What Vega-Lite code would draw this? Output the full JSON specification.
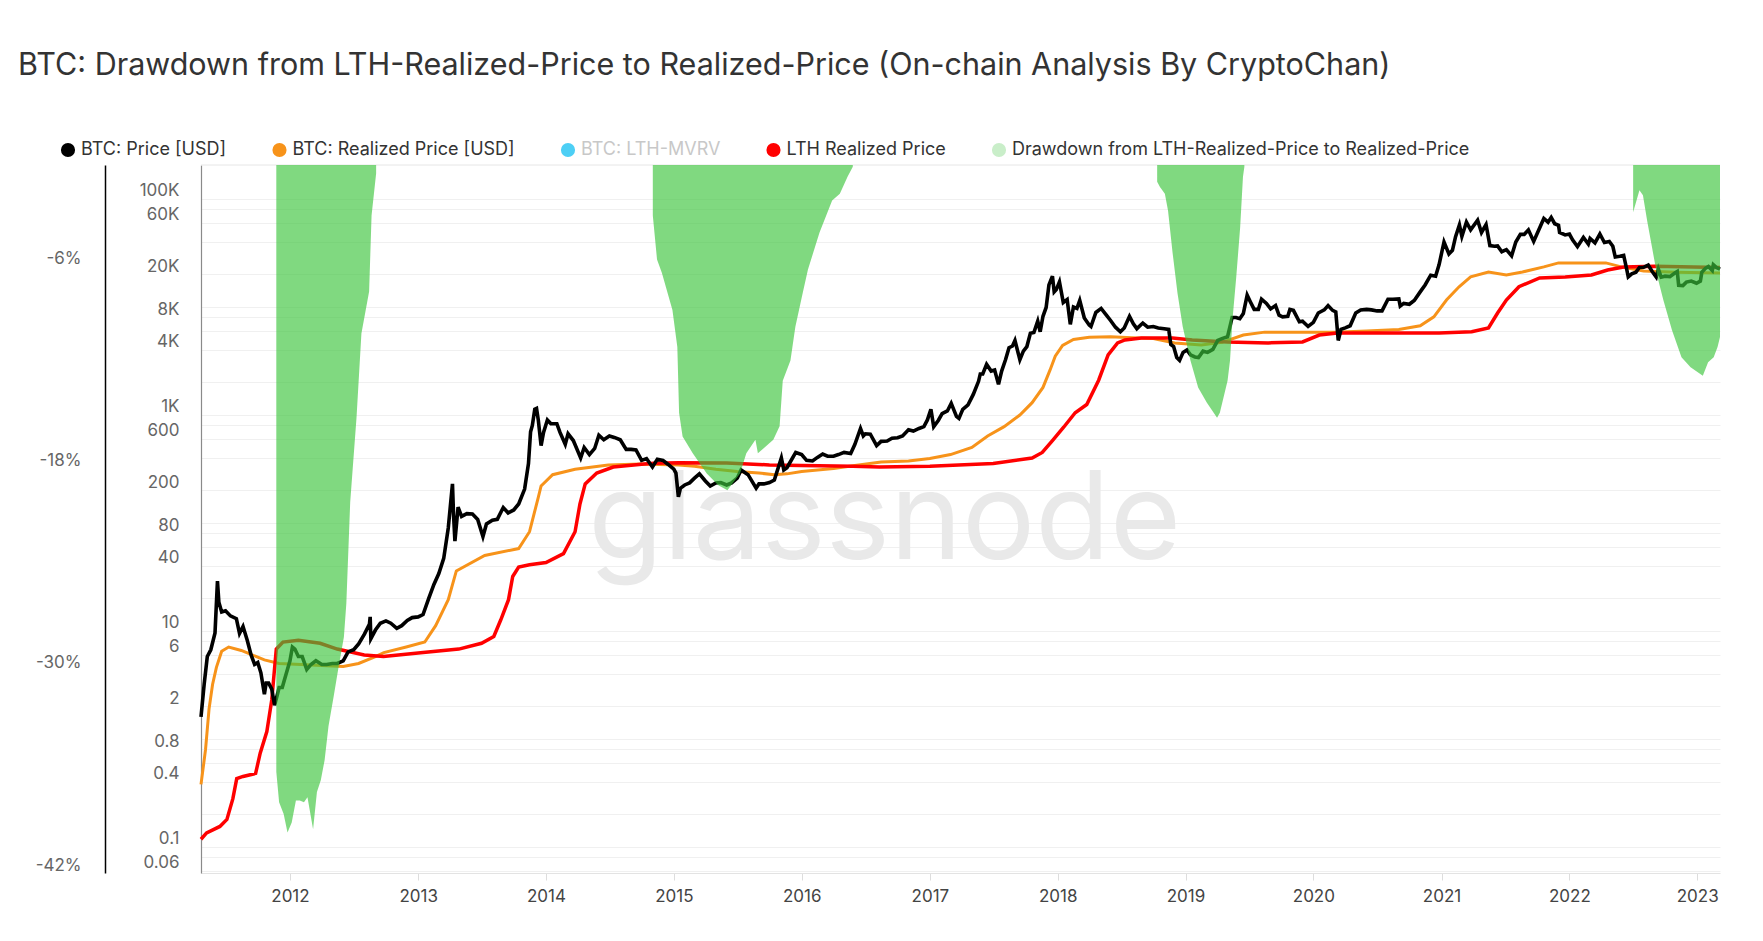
{
"$schema": "https://vega.github.io/schema/vega-lite/v6.json",
"width": 1519,
"height": 708,
"autosize": {"type": "none"},
"padding": {"left": 201, "top": 165, "right": 43, "bottom": 68},
"background": "#ffffff",
"config": {"view": {"stroke": null}, "font": "Inter"},
"title": {"text": "BTC: Drawdown from LTH-Realized-Price to Realized-Price (On-chain Analysis By CryptoChan)", "anchor": "start", "frame": "group", "fontSize": 30.5, "fontWeight": 400, "font": "Inter", "color": "#333333", "dx": -183, "offset": 60},
"datasets": {
"price": [
{"d":"2011-04-22","v":1.6},{"d":"2011-05-01","v":3.2},{"d":"2011-05-10","v":5.8},{"d":"2011-05-20","v":6.7},{"d":"2011-06-01","v":9.6},{"d":"2011-06-08","v":29},{"d":"2011-06-12","v":18.5},{"d":"2011-06-20","v":15},{"d":"2011-07-01","v":15.4},{"d":"2011-07-15","v":13.8},{"d":"2011-08-01","v":13},{"d":"2011-08-10","v":9.5},{"d":"2011-08-20","v":11},{"d":"2011-09-01","v":8.2},{"d":"2011-09-12","v":6},{"d":"2011-09-22","v":4.9},{"d":"2011-10-01","v":5.1},{"d":"2011-10-10","v":4.1},{"d":"2011-10-20","v":2.6},{"d":"2011-10-25","v":3.3},{"d":"2011-11-01","v":3.3},{"d":"2011-11-10","v":2.9},{"d":"2011-11-18","v":2.05},{"d":"2011-11-25","v":2.5},{"d":"2011-12-01","v":3},{"d":"2011-12-10","v":3},{"d":"2011-12-20","v":3.9},{"d":"2012-01-01","v":5.3},{"d":"2012-01-08","v":7.1},{"d":"2012-01-15","v":6.8},{"d":"2012-01-25","v":5.8},{"d":"2012-02-05","v":5.8},{"d":"2012-02-18","v":4.4},{"d":"2012-03-01","v":4.9},{"d":"2012-03-15","v":5.3},{"d":"2012-04-01","v":4.9},{"d":"2012-04-15","v":4.9},{"d":"2012-05-01","v":5},{"d":"2012-05-15","v":5},{"d":"2012-06-01","v":5.3},{"d":"2012-06-15","v":6.4},{"d":"2012-07-01","v":6.7},{"d":"2012-07-15","v":7.6},{"d":"2012-08-01","v":9.4},{"d":"2012-08-15","v":11.6},{"d":"2012-08-17","v":13.5},{"d":"2012-08-19","v":8.5},{"d":"2012-09-01","v":10.2},{"d":"2012-09-15","v":11.8},{"d":"2012-10-01","v":12.4},{"d":"2012-10-15","v":11.8},{"d":"2012-11-01","v":10.6},{"d":"2012-11-15","v":11.2},{"d":"2012-12-01","v":12.5},{"d":"2012-12-15","v":13.3},{"d":"2013-01-01","v":13.5},{"d":"2013-01-15","v":14.2},{"d":"2013-02-01","v":20.4},{"d":"2013-02-15","v":27},{"d":"2013-03-01","v":34},{"d":"2013-03-15","v":47},{"d":"2013-03-28","v":90},{"d":"2013-04-09","v":230},{"d":"2013-04-12","v":120},{"d":"2013-04-16","v":68},{"d":"2013-04-25","v":140},{"d":"2013-05-05","v":115},{"d":"2013-05-20","v":122},{"d":"2013-06-05","v":121},{"d":"2013-06-20","v":108},{"d":"2013-07-05","v":75},{"d":"2013-07-15","v":98},{"d":"2013-08-01","v":106},{"d":"2013-08-15","v":108},{"d":"2013-09-01","v":139},{"d":"2013-09-15","v":124},{"d":"2013-10-01","v":132},{"d":"2013-10-15","v":150},{"d":"2013-11-01","v":206},{"d":"2013-11-12","v":355},{"d":"2013-11-18","v":700},{"d":"2013-11-23","v":800},{"d":"2013-11-30","v":1130},{"d":"2013-12-05","v":1150},{"d":"2013-12-10","v":900},{"d":"2013-12-18","v":520},{"d":"2013-12-25","v":690},{"d":"2014-01-05","v":900},{"d":"2014-01-15","v":830},{"d":"2014-02-01","v":830},{"d":"2014-02-10","v":690},{"d":"2014-02-25","v":535},{"d":"2014-03-05","v":670},{"d":"2014-03-20","v":580},{"d":"2014-04-10","v":400},{"d":"2014-04-20","v":500},{"d":"2014-05-05","v":430},{"d":"2014-05-20","v":490},{"d":"2014-06-01","v":650},{"d":"2014-06-15","v":590},{"d":"2014-07-01","v":640},{"d":"2014-07-15","v":620},{"d":"2014-08-01","v":590},{"d":"2014-08-18","v":480},{"d":"2014-09-01","v":480},{"d":"2014-09-15","v":475},{"d":"2014-10-01","v":380},{"d":"2014-10-15","v":395},{"d":"2014-11-01","v":330},{"d":"2014-11-15","v":390},{"d":"2014-12-01","v":380},{"d":"2014-12-15","v":350},{"d":"2015-01-01","v":315},{"d":"2015-01-07","v":290},{"d":"2015-01-14","v":175},{"d":"2015-01-20","v":210},{"d":"2015-02-01","v":225},{"d":"2015-02-15","v":235},{"d":"2015-03-01","v":260},{"d":"2015-03-15","v":285},{"d":"2015-04-01","v":245},{"d":"2015-04-15","v":220},{"d":"2015-05-01","v":235},{"d":"2015-05-15","v":237},{"d":"2015-06-01","v":225},{"d":"2015-06-15","v":235},{"d":"2015-07-01","v":260},{"d":"2015-07-12","v":310},{"d":"2015-08-01","v":280},{"d":"2015-08-24","v":210},{"d":"2015-09-01","v":230},{"d":"2015-09-15","v":230},{"d":"2015-10-01","v":237},{"d":"2015-10-15","v":250},{"d":"2015-11-04","v":400},{"d":"2015-11-11","v":310},{"d":"2015-11-20","v":325},{"d":"2015-12-01","v":375},{"d":"2015-12-15","v":450},{"d":"2016-01-01","v":430},{"d":"2016-01-15","v":380},{"d":"2016-02-01","v":375},{"d":"2016-02-15","v":405},{"d":"2016-03-01","v":435},{"d":"2016-03-15","v":415},{"d":"2016-04-01","v":415},{"d":"2016-04-15","v":430},{"d":"2016-05-01","v":450},{"d":"2016-05-20","v":440},{"d":"2016-06-01","v":535},{"d":"2016-06-17","v":750},{"d":"2016-06-25","v":640},{"d":"2016-07-01","v":670},{"d":"2016-07-15","v":665},{"d":"2016-08-02","v":520},{"d":"2016-08-15","v":570},{"d":"2016-09-01","v":575},{"d":"2016-09-15","v":610},{"d":"2016-10-01","v":615},{"d":"2016-10-15","v":640},{"d":"2016-11-01","v":730},{"d":"2016-11-15","v":710},{"d":"2016-12-01","v":750},{"d":"2016-12-15","v":780},{"d":"2016-12-25","v":900},{"d":"2017-01-04","v":1130},{"d":"2017-01-12","v":780},{"d":"2017-01-25","v":890},{"d":"2017-02-05","v":1030},{"d":"2017-02-20","v":1090},{"d":"2017-03-03","v":1280},{"d":"2017-03-18","v":970},{"d":"2017-03-25","v":930},{"d":"2017-04-05","v":1130},{"d":"2017-04-20","v":1240},{"d":"2017-05-05","v":1550},{"d":"2017-05-20","v":2050},{"d":"2017-05-25","v":2400},{"d":"2017-06-01","v":2400},{"d":"2017-06-12","v":2950},{"d":"2017-06-25","v":2550},{"d":"2017-07-05","v":2610},{"d":"2017-07-16","v":1920},{"d":"2017-07-25","v":2550},{"d":"2017-08-05","v":3250},{"d":"2017-08-15","v":4200},{"d":"2017-08-25","v":4350},{"d":"2017-09-01","v":4900},{"d":"2017-09-15","v":3250},{"d":"2017-09-25","v":3900},{"d":"2017-10-05","v":4300},{"d":"2017-10-15","v":5700},{"d":"2017-10-25","v":5800},{"d":"2017-11-05","v":7400},{"d":"2017-11-12","v":5900},{"d":"2017-11-20","v":8200},{"d":"2017-11-29","v":9900},{"d":"2017-12-07","v":16000},{"d":"2017-12-17","v":19300},{"d":"2017-12-22","v":13800},{"d":"2017-12-28","v":14500},{"d":"2018-01-06","v":17100},{"d":"2018-01-17","v":11000},{"d":"2018-01-28","v":11700},{"d":"2018-02-06","v":6900},{"d":"2018-02-15","v":10000},{"d":"2018-02-25","v":9700},{"d":"2018-03-05","v":11500},{"d":"2018-03-18","v":7900},{"d":"2018-04-01","v":6800},{"d":"2018-04-06","v":6600},{"d":"2018-04-20","v":8900},{"d":"2018-05-05","v":9700},{"d":"2018-05-20","v":8400},{"d":"2018-06-01","v":7500},{"d":"2018-06-15","v":6500},{"d":"2018-06-29","v":5900},{"d":"2018-07-10","v":6400},{"d":"2018-07-25","v":8200},{"d":"2018-08-05","v":7000},{"d":"2018-08-15","v":6300},{"d":"2018-09-01","v":7100},{"d":"2018-09-15","v":6500},{"d":"2018-10-01","v":6600},{"d":"2018-10-15","v":6400},{"d":"2018-11-01","v":6300},{"d":"2018-11-14","v":6200},{"d":"2018-11-20","v":4500},{"d":"2018-11-28","v":4300},{"d":"2018-12-07","v":3400},{"d":"2018-12-15","v":3200},{"d":"2018-12-25","v":3800},{"d":"2019-01-05","v":4000},{"d":"2019-01-15","v":3600},{"d":"2019-01-28","v":3450},{"d":"2019-02-07","v":3400},{"d":"2019-02-20","v":3900},{"d":"2019-03-05","v":3800},{"d":"2019-03-20","v":4050},{"d":"2019-04-03","v":4900},{"d":"2019-04-15","v":5100},{"d":"2019-05-01","v":5300},{"d":"2019-05-14","v":8000},{"d":"2019-05-25","v":8000},{"d":"2019-06-05","v":7800},{"d":"2019-06-15","v":8700},{"d":"2019-06-26","v":12900},{"d":"2019-07-05","v":11200},{"d":"2019-07-16","v":9500},{"d":"2019-07-28","v":9500},{"d":"2019-08-06","v":11800},{"d":"2019-08-20","v":10800},{"d":"2019-09-01","v":9600},{"d":"2019-09-15","v":10300},{"d":"2019-09-25","v":8400},{"d":"2019-10-05","v":8100},{"d":"2019-10-20","v":8200},{"d":"2019-10-26","v":9500},{"d":"2019-11-05","v":9300},{"d":"2019-11-22","v":7300},{"d":"2019-12-01","v":7400},{"d":"2019-12-17","v":6600},{"d":"2020-01-01","v":7200},{"d":"2020-01-15","v":8800},{"d":"2020-02-01","v":9400},{"d":"2020-02-12","v":10300},{"d":"2020-02-25","v":9300},{"d":"2020-03-05","v":9000},{"d":"2020-03-12","v":4900},{"d":"2020-03-20","v":6200},{"d":"2020-04-01","v":6400},{"d":"2020-04-15","v":6700},{"d":"2020-05-01","v":8800},{"d":"2020-05-15","v":9400},{"d":"2020-06-01","v":9500},{"d":"2020-06-15","v":9400},{"d":"2020-07-01","v":9200},{"d":"2020-07-15","v":9200},{"d":"2020-08-01","v":11800},{"d":"2020-08-15","v":11800},{"d":"2020-09-01","v":11900},{"d":"2020-09-05","v":10200},{"d":"2020-09-15","v":10800},{"d":"2020-10-01","v":10600},{"d":"2020-10-15","v":11500},{"d":"2020-11-01","v":13800},{"d":"2020-11-15","v":16000},{"d":"2020-12-01","v":19700},{"d":"2020-12-15","v":19300},{"d":"2020-12-25","v":24700},{"d":"2021-01-08","v":40000},{"d":"2021-01-22","v":31000},{"d":"2021-02-01","v":33500},{"d":"2021-02-10","v":44800},{"d":"2021-02-21","v":57500},{"d":"2021-02-28","v":45000},{"d":"2021-03-13","v":61200},{"d":"2021-03-25","v":51700},{"d":"2021-04-14","v":63500},{"d":"2021-04-25","v":49000},{"d":"2021-05-08","v":58000},{"d":"2021-05-19","v":37000},{"d":"2021-06-01","v":36500},{"d":"2021-06-10","v":36800},{"d":"2021-06-22","v":32500},{"d":"2021-07-05","v":34000},{"d":"2021-07-20","v":29800},{"d":"2021-08-01","v":40000},{"d":"2021-08-14","v":47000},{"d":"2021-08-25","v":47000},{"d":"2021-09-06","v":51800},{"d":"2021-09-21","v":40500},{"d":"2021-10-01","v":48000},{"d":"2021-10-20","v":66000},{"d":"2021-11-01","v":61000},{"d":"2021-11-10","v":67500},{"d":"2021-11-20","v":59000},{"d":"2021-12-01","v":57000},{"d":"2021-12-04","v":49000},{"d":"2021-12-20","v":46500},{"d":"2022-01-01","v":47300},{"d":"2022-01-10","v":41800},{"d":"2022-01-24","v":36200},{"d":"2022-02-10","v":44000},{"d":"2022-02-24","v":38300},{"d":"2022-03-01","v":43200},{"d":"2022-03-15","v":39300},{"d":"2022-03-29","v":47400},{"d":"2022-04-11","v":39500},{"d":"2022-04-25","v":40400},{"d":"2022-05-05","v":36500},{"d":"2022-05-12","v":29000},{"d":"2022-05-25","v":29500},{"d":"2022-06-05","v":30000},{"d":"2022-06-14","v":22100},{"d":"2022-06-18","v":19000},{"d":"2022-06-28","v":20300},{"d":"2022-07-10","v":21000},{"d":"2022-07-20","v":23200},{"d":"2022-08-01","v":23300},{"d":"2022-08-14","v":24400},{"d":"2022-08-25","v":21400},{"d":"2022-09-06","v":18900},{"d":"2022-09-12","v":22400},{"d":"2022-09-20","v":18900},{"d":"2022-10-01","v":19300},{"d":"2022-10-15","v":19100},{"d":"2022-10-29","v":20600},{"d":"2022-11-05","v":21300},{"d":"2022-11-09","v":15900},{"d":"2022-11-21","v":15800},{"d":"2022-12-01","v":17000},{"d":"2022-12-15","v":17400},{"d":"2022-12-30","v":16600},{"d":"2023-01-10","v":17400},{"d":"2023-01-14","v":20900},{"d":"2023-01-25","v":22900},{"d":"2023-02-02","v":23700},{"d":"2023-02-13","v":21800},{"d":"2023-02-16","v":24600},{"d":"2023-02-25","v":23200},{"d":"2023-03-07","v":22400}
],
"rp": [
{"d":"2011-04-22","v":0.38},{"d":"2011-05-05","v":0.8},{"d":"2011-05-15","v":1.9},{"d":"2011-05-25","v":3.2},{"d":"2011-06-05","v":4.6},{"d":"2011-06-20","v":6.5},{"d":"2011-07-10","v":7.1},{"d":"2011-08-15","v":6.6},{"d":"2011-09-15","v":6.0},{"d":"2011-10-20","v":5.4},{"d":"2011-12-01","v":5.0},{"d":"2012-02-01","v":4.9},{"d":"2012-04-01","v":4.8},{"d":"2012-06-01","v":4.7},{"d":"2012-07-15","v":5.0},{"d":"2012-09-01","v":5.8},{"d":"2012-09-25","v":6.3},{"d":"2012-11-28","v":7.1},{"d":"2013-01-20","v":7.9},{"d":"2013-02-20","v":11.2},{"d":"2013-03-28","v":19.5},{"d":"2013-04-20","v":36},{"d":"2013-07-10","v":50},{"d":"2013-10-15","v":58},{"d":"2013-11-15","v":83},{"d":"2013-12-10","v":173},{"d":"2013-12-18","v":220},{"d":"2014-01-20","v":280},{"d":"2014-03-25","v":315},{"d":"2014-06-28","v":345},{"d":"2014-09-28","v":352},{"d":"2015-01-15","v":345},{"d":"2015-03-01","v":335},{"d":"2015-05-01","v":315},{"d":"2015-07-01","v":300},{"d":"2015-09-01","v":290},{"d":"2015-10-15","v":280},{"d":"2015-11-20","v":285},{"d":"2016-01-01","v":300},{"d":"2016-04-01","v":320},{"d":"2016-06-01","v":340},{"d":"2016-08-15","v":367},{"d":"2016-11-01","v":375},{"d":"2017-01-01","v":395},{"d":"2017-03-01","v":430},{"d":"2017-05-01","v":500},{"d":"2017-06-15","v":640},{"d":"2017-08-01","v":780},{"d":"2017-09-15","v":1000},{"d":"2017-10-20","v":1300},{"d":"2017-11-20","v":1800},{"d":"2017-12-10","v":2600},{"d":"2017-12-25","v":3500},{"d":"2018-01-15","v":4400},{"d":"2018-02-15","v":5000},{"d":"2018-04-01","v":5250},{"d":"2018-06-01","v":5300},{"d":"2018-08-01","v":5200},{"d":"2018-10-01","v":5100},{"d":"2018-12-01","v":4650},{"d":"2019-02-15","v":4450},{"d":"2019-04-15","v":4700},{"d":"2019-06-15","v":5500},{"d":"2019-08-15","v":5850},{"d":"2019-11-01","v":5850},{"d":"2020-03-01","v":5850},{"d":"2020-06-01","v":6000},{"d":"2020-09-01","v":6200},{"d":"2020-11-01","v":6700},{"d":"2020-12-10","v":8100},{"d":"2021-01-15","v":11600},{"d":"2021-02-20","v":15400},{"d":"2021-03-25","v":19000},{"d":"2021-05-15","v":21100},{"d":"2021-07-05","v":19800},{"d":"2021-08-20","v":21100},{"d":"2021-10-20","v":23500},{"d":"2021-12-01","v":25600},{"d":"2022-04-15","v":25600},{"d":"2022-06-01","v":23400},{"d":"2022-08-01","v":21500},{"d":"2022-11-01","v":21000},{"d":"2023-03-07","v":20600}
],
"lth": [
{"d":"2011-04-22","v":0.118},{"d":"2011-05-08","v":0.135},{"d":"2011-06-15","v":0.155},{"d":"2011-07-05","v":0.18},{"d":"2011-07-22","v":0.28},{"d":"2011-08-02","v":0.43},{"d":"2011-08-20","v":0.45},{"d":"2011-09-25","v":0.48},{"d":"2011-10-08","v":0.74},{"d":"2011-10-27","v":1.17},{"d":"2011-11-10","v":2.3},{"d":"2011-11-23","v":6.8},{"d":"2011-12-12","v":7.9},{"d":"2012-01-25","v":8.2},{"d":"2012-03-27","v":7.7},{"d":"2012-05-15","v":6.8},{"d":"2012-07-31","v":6.0},{"d":"2012-09-24","v":5.8},{"d":"2013-01-08","v":6.3},{"d":"2013-04-27","v":6.8},{"d":"2013-07-01","v":7.7},{"d":"2013-08-05","v":8.9},{"d":"2013-08-25","v":12.7},{"d":"2013-09-16","v":19.5},{"d":"2013-09-28","v":32},{"d":"2013-10-15","v":39},{"d":"2013-11-15","v":41},{"d":"2014-01-01","v":43},{"d":"2014-02-20","v":52},{"d":"2014-03-25","v":83},{"d":"2014-04-08","v":150},{"d":"2014-04-23","v":230},{"d":"2014-05-26","v":290},{"d":"2014-07-12","v":330},{"d":"2014-10-01","v":350},{"d":"2014-11-05","v":358},{"d":"2015-01-15","v":362},{"d":"2015-06-01","v":360},{"d":"2015-10-01","v":345},{"d":"2016-01-01","v":340},{"d":"2016-05-26","v":335},{"d":"2016-08-10","v":330},{"d":"2017-01-01","v":335},{"d":"2017-07-01","v":355},{"d":"2017-10-20","v":400},{"d":"2017-11-18","v":450},{"d":"2017-12-17","v":580},{"d":"2018-01-18","v":770},{"d":"2018-02-20","v":1050},{"d":"2018-03-25","v":1250},{"d":"2018-04-28","v":2100},{"d":"2018-05-25","v":3600},{"d":"2018-06-21","v":4650},{"d":"2018-07-12","v":4950},{"d":"2018-08-28","v":5150},{"d":"2018-11-25","v":5150},{"d":"2019-01-20","v":4950},{"d":"2019-05-01","v":4750},{"d":"2019-08-25","v":4650},{"d":"2019-12-01","v":4750},{"d":"2020-01-18","v":5500},{"d":"2020-03-10","v":5750},{"d":"2020-08-25","v":5750},{"d":"2020-12-25","v":5750},{"d":"2021-03-28","v":5900},{"d":"2021-05-15","v":6400},{"d":"2021-06-10","v":8800},{"d":"2021-07-05","v":11600},{"d":"2021-08-10","v":15400},{"d":"2021-10-08","v":18600},{"d":"2021-12-20","v":19000},{"d":"2022-03-05","v":19800},{"d":"2022-04-20","v":22000},{"d":"2022-06-05","v":23400},{"d":"2022-09-01","v":23800},{"d":"2023-03-07","v":23200}
],
"dd": [
{"d":"2011-11-23","v":-36,"p":"a"},{"d":"2011-12-01","v":-37.8,"p":"a"},{"d":"2011-12-14","v":-38.5,"p":"a"},{"d":"2011-12-25","v":-39.6,"p":"a"},{"d":"2012-01-06","v":-39,"p":"a"},{"d":"2012-01-18","v":-37.7,"p":"a"},{"d":"2012-01-29","v":-37.7,"p":"a"},{"d":"2012-02-10","v":-37.8,"p":"a"},{"d":"2012-02-20","v":-37.5,"p":"a"},{"d":"2012-03-07","v":-39.4,"p":"a"},{"d":"2012-03-18","v":-37.2,"p":"a"},{"d":"2012-03-29","v":-36.5,"p":"a"},{"d":"2012-04-09","v":-35.3,"p":"a"},{"d":"2012-04-20","v":-33.3,"p":"a"},{"d":"2012-05-05","v":-31.5,"p":"a"},{"d":"2012-05-17","v":-30,"p":"a"},{"d":"2012-06-03","v":-28,"p":"a"},{"d":"2012-06-10","v":-26,"p":"a"},{"d":"2012-06-21","v":-20,"p":"a"},{"d":"2012-07-09","v":-15,"p":"a"},{"d":"2012-07-23","v":-10,"p":"a"},{"d":"2012-08-14","v":-7.5,"p":"a"},{"d":"2012-08-21","v":-3,"p":"a"},{"d":"2012-09-03","v":-0.5,"p":"a"},
{"d":"2014-11-02","v":-3,"p":"b"},{"d":"2014-11-14","v":-5.6,"p":"b"},{"d":"2014-11-28","v":-6.4,"p":"b"},{"d":"2014-12-28","v":-8.6,"p":"b"},{"d":"2015-01-11","v":-10.8,"p":"b"},{"d":"2015-01-16","v":-14.7,"p":"b"},{"d":"2015-01-26","v":-16.1,"p":"b"},{"d":"2015-02-24","v":-17.1,"p":"b"},{"d":"2015-04-05","v":-18.3,"p":"b"},{"d":"2015-05-08","v":-19,"p":"b"},{"d":"2015-06-03","v":-19.3,"p":"b"},{"d":"2015-07-09","v":-18.3,"p":"b"},{"d":"2015-07-27","v":-17.1,"p":"b"},{"d":"2015-08-22","v":-16.3,"p":"b"},{"d":"2015-08-29","v":-17.1,"p":"b"},{"d":"2015-10-12","v":-16.3,"p":"b"},{"d":"2015-10-30","v":-15.5,"p":"b"},{"d":"2015-11-08","v":-12.8,"p":"b"},{"d":"2015-11-30","v":-11.6,"p":"b"},{"d":"2015-12-14","v":-9.6,"p":"b"},{"d":"2016-01-04","v":-7.6,"p":"b"},{"d":"2016-01-19","v":-6.2,"p":"b"},{"d":"2016-02-21","v":-4,"p":"b"},{"d":"2016-03-28","v":-2.1,"p":"b"},{"d":"2016-04-19","v":-1.7,"p":"b"},{"d":"2016-05-11","v":-0.7,"p":"b"},{"d":"2016-05-26","v":-0.1,"p":"b"},
{"d":"2018-10-12","v":-1,"p":"c"},{"d":"2018-10-20","v":-1.3,"p":"c"},{"d":"2018-11-03","v":-1.7,"p":"c"},{"d":"2018-11-12","v":-2.7,"p":"c"},{"d":"2018-11-25","v":-5.2,"p":"c"},{"d":"2018-12-09","v":-7.6,"p":"c"},{"d":"2018-12-24","v":-9.6,"p":"c"},{"d":"2019-01-15","v":-11.6,"p":"c"},{"d":"2019-02-06","v":-13.2,"p":"c"},{"d":"2019-03-03","v":-14.1,"p":"c"},{"d":"2019-04-01","v":-15,"p":"c"},{"d":"2019-04-09","v":-14.7,"p":"c"},{"d":"2019-05-01","v":-12.8,"p":"c"},{"d":"2019-05-08","v":-11.6,"p":"c"},{"d":"2019-05-15","v":-9.2,"p":"c"},{"d":"2019-05-26","v":-6.6,"p":"c"},{"d":"2019-06-06","v":-3.7,"p":"c"},{"d":"2019-06-14","v":-0.7,"p":"c"},{"d":"2019-06-18","v":-0.1,"p":"c"},
{"d":"2022-07-02","v":-2.8,"p":"d"},{"d":"2022-07-20","v":-1.5,"p":"d"},{"d":"2022-07-30","v":-1.8,"p":"d"},{"d":"2022-08-11","v":-3.3,"p":"d"},{"d":"2022-08-25","v":-4.9,"p":"d"},{"d":"2022-09-09","v":-6.6,"p":"d"},{"d":"2022-09-26","v":-8,"p":"d"},{"d":"2022-10-21","v":-9.8,"p":"d"},{"d":"2022-11-17","v":-11.4,"p":"d"},{"d":"2022-12-13","v":-12,"p":"d"},{"d":"2023-01-17","v":-12.5,"p":"d"},{"d":"2023-02-01","v":-11.7,"p":"d"},{"d":"2023-02-17","v":-11.4,"p":"d"},{"d":"2023-02-28","v":-10.8,"p":"d"},{"d":"2023-03-07","v":-10.2,"p":"d"}
]
},
"layer": [
{
"layer": [
{"data": {"values": [{"t": "glassnode"}]}, "mark": {"type": "text", "fontSize": 122, "font": "Inter", "fontWeight": 400, "color": "#e9e9e9", "align": "center", "baseline": "alphabetic"},
 "encoding": {"x": {"datum": {"year": 2016, "month": 8, "date": 25}, "type": "temporal"}, "y": {"datum": 46.4, "type": "quantitative"}, "text": {"field": "t"}}},
{"data": {"name": "rp"}, "mark": {"type": "line", "strokeWidth": 3}, "encoding": {
 "x": {"field": "d", "type": "temporal", "scale": {"domain": [{"year": 2011, "month": 4, "date": 22}, {"year": 2023, "month": 3, "date": 7}]},
   "axis": {"orient": "bottom", "values": [{"year":2012,"month":1,"date":1},{"year":2013,"month":1,"date":1},{"year":2014,"month":1,"date":1},{"year":2015,"month":1,"date":1},{"year":2016,"month":1,"date":1},{"year":2017,"month":1,"date":1},{"year":2018,"month":1,"date":1},{"year":2019,"month":1,"date":1},{"year":2020,"month":1,"date":1},{"year":2021,"month":1,"date":1},{"year":2022,"month":1,"date":1},{"year":2023,"month":1,"date":1}], "format": "%Y", "labelFontSize": 17, "labelColor": "#444444", "labelFont": "Inter", "tickColor": "#dddddd", "tickSize": 7, "domainColor": "#e3e3e3", "grid": false, "labelPadding": 8, "title": null, "labelFlush": false}},
 "y": {"field": "v", "type": "quantitative", "scale": {"type": "log", "domain": [0.05743, 206400], "nice": false},
   "axis": {"orient": "left", "values": [0.06,0.08,0.1,0.2,0.4,0.6,0.8,1,2,4,6,8,10,20,40,60,80,100,200,400,600,800,1000,2000,4000,6000,8000,10000,20000,40000,60000,80000,100000], "labelExpr": "indexof([0.06,0.1,0.4,0.8,2,6,10,40,80,200,600,1000,4000,8000,20000,60000,100000], datum.value) >= 0 ? (datum.value >= 1000 ? (datum.value/1000) + 'K' : datum.value + '') : ''", "grid": true, "gridColor": "#f0f0f0", "ticks": false, "domain": true, "domainColor": "#8a8a8a", "domainWidth": 1.2, "labelPadding": 22, "labelFontSize": 17, "labelFont": "Inter", "labelColor": "#666666", "labelOffset": -8, "labelOverlap": false, "title": null}},
 "color": {"datum": "BTC: Realized Price [USD]", "type": "nominal", "scale": {"domain": ["BTC: Price [USD]", "BTC: Realized Price [USD]", "BTC: LTH-MVRV", "LTH Realized Price", "Drawdown from LTH-Realized-Price to Realized-Price"], "range": ["#000000", "#f7931a", "#4dcff5", "#ff0000", "#c9eec9"]},
   "legend": {"orient": "none", "legendX": -142, "legendY": -24, "direction": "horizontal", "title": null, "symbolType": "circle", "symbolSize": 200, "labelFontSize": 18, "labelFont": "Inter", "labelColor": "#333333", "labelOffset": 4, "columnPadding": 43.5, "labelLimit": 700,
     "encode": {"symbols": {"update": {"fill": {"scale": "color", "field": "value"}, "stroke": {"value": "transparent"}, "strokeWidth": {"value": 0}, "opacity": {"value": 1}}},
                "labels": {"update": {"fill": {"signal": "datum.label === 'BTC: LTH-MVRV' ? '#c8c8c8' : '#333333'"}}}}}}}},
{"data": {"name": "lth"}, "mark": {"type": "line", "strokeWidth": 3.5}, "encoding": {
 "x": {"field": "d", "type": "temporal"},
 "y": {"field": "v", "type": "quantitative"},
 "color": {"datum": "LTH Realized Price", "type": "nominal"}}},
{"data": {"name": "price"}, "mark": {"type": "line", "strokeWidth": 3.6}, "encoding": {
 "x": {"field": "d", "type": "temporal"},
 "y": {"field": "v", "type": "quantitative"},
 "color": {"datum": "BTC: Price [USD]", "type": "nominal"}}},
{"data": {"values": [{}]}, "mark": {"type": "rule", "color": "#e6e6e6", "strokeWidth": 1}, "encoding": {"y": {"datum": 206400, "type": "quantitative"}}}
]
},
{"data": {"name": "dd"}, "mark": {"type": "area", "color": "#3cc43c", "opacity": 0.65, "interpolate": "linear"}, "encoding": {
 "x": {"field": "d", "type": "temporal"},
 "y": {"field": "v", "type": "quantitative", "scale": {"domain": [-42, 0], "nice": false, "zero": false},
   "axis": {"orient": "left", "offset": 96, "values": [-42, -30, -18, -6], "labelExpr": "datum.value + '%'", "grid": false, "ticks": false, "domain": true, "domainColor": "#000000", "domainWidth": 1.5, "labelPadding": 24, "labelFontSize": 17, "labelFont": "Inter", "labelColor": "#666666", "labelOffset": -8, "title": null}},
 "y2": {"datum": 0},
 "detail": {"field": "p", "type": "nominal"}}}
],
"resolve": {"scale": {"y": "independent"}}
}
